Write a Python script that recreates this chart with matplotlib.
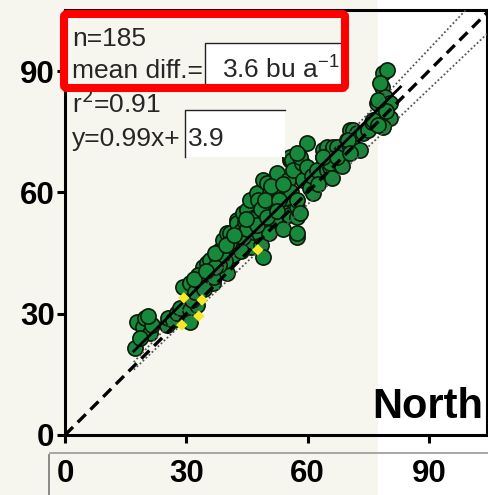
import matplotlib
matplotlib.use("Agg")
import matplotlib.pyplot as plt
from matplotlib.patches import Rectangle, FancyBboxPatch
from matplotlib.lines import Line2D
import numpy as np

plt.rcParams['font.family'] = ['Liberation Sans', 'DejaVu Sans']

# ---------------- data ----------------
green_x = [17.3, 17.8, 19.3, 19.8, 21.0, 21.5, 20.5, 18.5,
           25.2, 25.5, 26.7, 27.7, 28.5, 30.9, 32.6, 30.9, 31.5,
           29.2, 30.9, 32.2, 33.4, 34.1, 35.1, 35.9, 35.9, 36.6, 37.6, 33.0, 34.5, 36.8,
           38.3, 39.1, 40.1, 40.1, 40.8, 41.5, 42.5, 42.5, 41.0, 39.5, 38.0, 43.0, 43.5,
           44.5, 44.0, 45.0, 45.8, 45.5, 46.5, 47.5, 47.7, 47.0, 46.0, 48.0, 48.5, 49.0,
           49.0, 50.0, 50.7, 50.7, 49.5, 50.5, 51.5, 52.0, 52.4, 52.4, 53.0, 53.5, 54.0,
           54.5, 55.2, 55.6, 55.6, 56.1, 56.4, 55.5, 56.0, 57.4, 57.4, 57.4, 57.4, 57.4,
           58.1, 58.6, 58.9, 58.1, 59.9, 59.9, 60.5, 61.3, 61.0, 62.3, 62.5, 63.8, 63.8,
           64.8, 64.8, 65.5, 65.5, 66.3, 66.0, 67.3, 68.0, 68.5, 69.7, 70.5, 70.5, 71.2,
           71.2, 72.2, 73.7, 73.0, 75.0, 76.0, 77.2, 77.9, 78.4, 78.7, 79.1, 80.4, 80.4,
           78.7, 79.5,
           42.0, 44.0, 45.0, 46.0, 48.5, 49.5, 51.0, 53.0, 54.0, 47.5, 50.0, 52.5, 43.5,
           40.5, 38.8, 37.0,
           79.6, 77.9, 77.4, 70.0, 57.4, 63.8, 67.3, 70.5, 76.2, 77.4,
           31.8, 34.8, 37.2, 39.8, 41.8, 44.8]
green_y = [21.5, 27.9, 26.7, 28.9, 25.2, 27.2, 29.5, 24.0,
           27.2, 28.9, 28.4, 30.2, 31.5, 30.9, 32.2, 28.0, 33.5,
           36.6, 37.6, 35.4, 37.8, 41.6, 42.5, 40.1, 43.3, 37.6, 44.0, 39.5, 36.0, 39.0,
           45.8, 48.2, 40.1, 50.0, 50.0, 44.5, 53.2, 52.4, 46.5, 43.0, 42.0, 47.5, 50.5,
           52.7, 55.0, 55.7, 58.1, 49.0, 51.5, 59.9, 58.1, 54.0, 46.5, 50.0, 47.0, 44.0,
           63.1, 62.3, 59.9, 55.7, 52.5, 50.0, 57.5, 53.5, 63.1, 64.8, 60.5, 56.0, 51.0,
           58.5, 63.1, 68.0, 68.8, 68.0, 65.5, 54.5, 60.0, 56.4, 53.9, 49.0, 58.1, 50.0,
           54.9, 67.3, 63.1, 68.8, 66.3, 72.2, 61.0, 59.9, 64.0, 65.5, 62.0, 68.8, 70.5,
           65.5, 71.2, 66.3, 67.3, 71.2, 63.5, 71.2, 69.7, 66.5, 73.0, 71.2, 75.4, 75.4,
           71.2, 74.7, 74.7, 70.5, 75.5, 77.5, 82.1, 78.7, 86.1, 89.5, 83.6, 82.1, 78.4,
           76.2, 80.0,
           48.5, 49.0, 51.0, 53.5, 56.0, 58.0, 61.5, 58.0, 62.0, 52.0, 54.0, 55.5, 45.5,
           47.5, 44.5, 41.5,
           90.3, 87.0, 82.9, 73.0, 69.7, 68.8, 68.8, 69.7, 77.9, 76.7,
           38.5, 40.5, 45.0, 47.0, 49.5, 53.5]

yellow_x = [29.4, 33.9, 28.9, 33.1, 47.7]
yellow_y = [33.9, 33.4, 27.2, 29.4, 45.8]

reg_slope, reg_intercept = 0.99, 3.9
reg_range = [17.0, 83.0]
band_factors = [1.06, 0.95]

ticks = [0, 30, 60, 90]
tick_labels = ['0', '30', '60', '90']
stat_lines = ['n=185', 'mean diff.=', 'r$^2$=0.91', 'y=0.99x+']
mean_diff_text = '3.6 bu a$^{\\mathregular{-1}}$'
intercept_text = '3.9'
region_label = 'North'

# ---------------- figure ----------------
W, H = 489, 495
fig = plt.figure(figsize=(W / 100, H / 100), dpi=100)
fig.patch.set_facecolor('white')

# cream background strip (scanned page)
fig.patches.append(Rectangle((0, 0), 378 / W, 1, transform=fig.transFigure,
                             facecolor='#f7f6ee', edgecolor='none', zorder=-10))

ax = fig.add_axes([65 / W, 1 - 435 / H, (487 - 65) / W, (435 - 10) / H])
ax.set_facecolor('none')
ax.set_xlim(0, 104.4)
ax.set_ylim(0, 105.1)

# scatter
ax.scatter(green_x, green_y, s=120, c='#17893c', edgecolors='#0a1a0a',
           linewidths=1.2, zorder=3)

# lines
xx = np.array([0, 104.4])
ax.plot(xx, xx, color='black', lw=2.4, dashes=(3.4, 2.0), zorder=4)
for f in band_factors:
    xe = min(104.4, 105.1 / f)
    ax.plot([17.0, xe], [17.0 * f, xe * f], color='#555555', lw=1.3,
            linestyle=(0, (1, 1.3)), zorder=4)
rx = np.array(reg_range)
ax.plot(rx, reg_slope * rx + reg_intercept, color='black', lw=2.0, zorder=5)

ax.scatter(yellow_x, yellow_y, s=34, marker='D', c='#f7e82a', edgecolors='none',
           zorder=6)

# spines / ticks
for sp in ax.spines.values():
    sp.set_linewidth(2.2)
    sp.set_color('black')
ax.spines['right'].set_linewidth(1.5)
ax.set_xticks(ticks)
ax.set_yticks(ticks)
ax.set_xticklabels(tick_labels, fontsize=22.5, fontweight='bold')
ax.set_yticklabels(tick_labels, fontsize=22.5, fontweight='bold')
ax.tick_params(axis='both', direction='out', length=6, width=2.2)
ax.tick_params(axis='x', pad=11)
ax.tick_params(axis='y', pad=1.5)

# region label
ax.text(103.4, 4.3, region_label, ha='right', va='baseline', fontsize=30,
        fontweight='bold', zorder=7)

# stats text
baselines = [46, 78, 113, 146]
for t, b in zip(stat_lines, baselines):
    fig.text(72 / W, 1 - b / H, t, fontsize=19, va='baseline', ha='left',
             color='#262626', zorder=20)

# white boxes
for (x0, y0, x1, y1) in [(205, 43, 347, 88), (185, 110, 285, 157)]:
    fig.patches.append(Rectangle((x0 / W, 1 - y1 / H), (x1 - x0) / W, (y1 - y0) / H,
                                 transform=fig.transFigure, facecolor='white',
                                 edgecolor='none', zorder=15))
    fig.lines.append(Line2D([x0 / W, x0 / W, x1 / W], [1 - y1 / H, 1 - y0 / H, 1 - y0 / H],
                            transform=fig.transFigure, color='#222222', lw=1.0, zorder=16))

fig.text(222 / W, 1 - 78 / H, mean_diff_text, fontsize=19, va='baseline', ha='left',
         color='#262626', zorder=20)
fig.text(188 / W, 1 - 146 / H, intercept_text, fontsize=19, va='baseline', ha='left',
         color='#262626', zorder=20)

# red highlight box
fig.patches.append(FancyBboxPatch((64 / W, 1 - 88 / H), (345 - 64) / W, (88 - 14) / H,
                                  boxstyle='round,pad=0,rounding_size=0.006',
                                  transform=fig.transFigure, facecolor='none',
                                  edgecolor='#ff0000', lw=5.8, zorder=25))

# pasted axis strip lines
fig.lines.append(Line2D([50 / W, 1], [1 - 453 / H, 1 - 453 / H], transform=fig.transFigure,
                        color='#a0a0a0', lw=1.3, zorder=30))
fig.lines.append(Line2D([49 / W, 49 / W], [1 - 455 / H, 0], transform=fig.transFigure,
                        color='#808080', lw=1.3, zorder=30))

fig.savefig('out.png', dpi=100, facecolor=fig.get_facecolor())
